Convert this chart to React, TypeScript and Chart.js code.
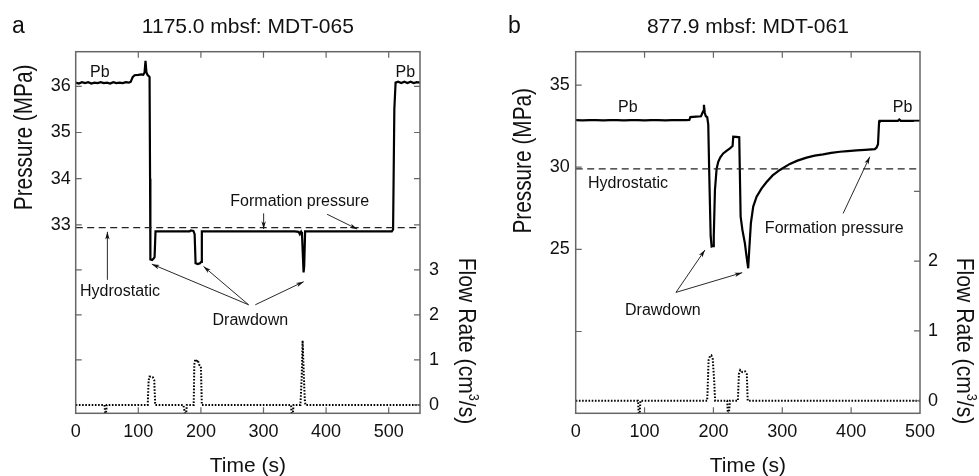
import React, { useEffect, useRef } from 'react';
import { Chart, registerables } from 'chart.js';

Chart.register(...registerables);

const FONT = '"Liberation Sans", Arial, Helvetica, sans-serif';
type Pt = [number, number];

// ---------- Panel a : 1175.0 mbsf, MDT-065 ----------
const A_PRESSURE: Pt[] = [
  [0, 36.08], [5, 36.06], [10, 36.09], [15, 36.07], [20, 36.09], [25, 36.06], [30, 36.08], [35, 36.07],
  [40, 36.09], [45, 36.07], [50, 36.08], [55, 36.06], [60, 36.09], [65, 36.07], [70, 36.08], [75, 36.07],
  [80, 36.09], [85, 36.08], [88, 36.1], [91, 36.2], [94, 36.24], [100, 36.25], [105, 36.26], [108, 36.25],
  [110, 36.3], [111.5, 36.55], [113, 36.3], [115, 36.24], [117, 36.22], [118, 36.2], [118.8, 34.0],
  [119.3, 32.25], [122, 32.24], [124.5, 32.27], [126, 32.3], [127.5, 32.86], [150, 32.86], [182, 32.86],
  [184, 32.88], [188, 32.87], [190, 32.8], [191.5, 32.17], [195, 32.15], [198.5, 32.17], [200.5, 32.2],
  [201.5, 32.86], [250, 32.86], [300, 32.86], [350, 32.86], [356, 32.85], [358, 32.8], [360, 32.85],
  [361.5, 32.8], [364, 31.97], [365, 32.1], [366.5, 32.86], [400, 32.86], [450, 32.86], [505, 32.86],
  [507, 32.9], [509, 35.5], [511, 36.08], [515, 36.1], [520, 36.07], [525, 36.1], [530, 36.07],
  [535, 36.1], [540, 36.07], [545, 36.09], [550, 36.08],
];
const A_FLOW: Pt[] = [
  [0, 0], [46, 0], [47, -0.18], [48.5, -0.18], [49.5, 0], [115, 0], [116.5, 0.55], [118, 0.63],
  [123, 0.62], [125.5, 0.55], [127, 0], [172, 0], [174.5, -0.18], [176.5, -0.18], [177.5, 0],
  [188.5, 0], [189.5, 0.9], [191, 1.02], [193, 0.95], [195, 1.0], [197, 0.9], [200, 0.85], [201.5, 0],
  [344, 0], [345, -0.18], [347, -0.18], [348, 0], [359, 0], [361, 0.6], [362.5, 1.43], [364, 0.8],
  [366, 0.1], [367, 0], [550, 0],
];
const A_HYDRO: Pt[] = [[0, 32.94], [550, 32.94]];
const A_X_TICKS = [0, 100, 200, 300, 400, 500];
const A_P_TICKS = [33, 34, 35, 36];
const A_Q_TICKS = [0, 1, 2, 3];
const A_LABELS = [
  { text: 'Pb', t: 22.9, p: 36.2 },
  { text: 'Pb', t: 510.9, p: 36.2 },
  { text: 'Formation pressure', t: 247, p: 33.4 },
  { text: 'Hydrostatic', t: 6.9, p: 31.45 },
  { text: 'Drawdown', t: 218.6, p: 30.84 },
];
const A_ARROWS: number[][] = [
  [300.2, 33.25, 300.2, 32.91],
  [401.6, 33.23, 449.6, 32.91],
  [50.6, 31.81, 50.6, 32.85],
  [276.2, 31.27, 121.6, 32.15],
  [276.2, 31.27, 204.2, 32.1],
  [286.9, 31.27, 364.2, 31.77],
];

// ---------- Panel b : 877.9 mbsf, MDT-061 ----------
const B_PRESSURE: Pt[] = [
  [0, 32.87], [10, 32.85], [20, 32.87], [30, 32.86], [40, 32.85], [50, 32.87], [60, 32.86], [70, 32.85],
  [80, 32.87], [90, 32.86], [100, 32.85], [110, 32.87], [120, 32.86], [130, 32.85], [140, 32.87],
  [150, 32.86], [160, 32.86], [165, 32.87], [166.5, 33.05], [175, 33.08], [182, 33.1], [185, 33.4],
  [186.2, 33.8], [187.5, 33.3], [189, 33.1], [191, 33.05], [192.5, 32.6], [194, 29.5], [196, 25.8],
  [197.4, 25.17], [199.5, 25.2], [200.5, 25.8], [202.2, 28.6], [204.6, 29.9], [207, 30.33], [210, 30.6],
  [214.2, 30.84], [219, 31.0], [224, 31.15], [227.8, 31.29], [228.8, 31.86], [233, 31.85], [237.5, 31.82],
  [239.5, 27.0], [242, 26.2], [245.7, 25.37], [248, 24.6], [250.5, 23.85], [252, 24.96], [254.4, 26.59],
  [257.8, 27.6], [262.7, 28.2], [270, 28.71], [277.2, 29.1], [286, 29.5], [296.5, 29.83], [311, 30.2],
  [322, 30.4], [335.3, 30.58], [347, 30.7], [359.4, 30.78], [371, 30.87], [383.6, 30.94], [395, 30.98],
  [407.8, 31.02], [420, 31.06], [434.4, 31.1], [437, 31.2], [439, 31.4], [440.6, 32.77], [441.5, 32.82],
  [455, 32.82], [468, 32.82], [470, 32.9], [472, 32.82], [485, 32.82], [500, 32.82],
];
const B_FLOW: Pt[] = [
  [0, 0], [90.5, 0], [91.5, -0.18], [93, -0.18], [94, 0], [191, 0], [193, 0.58], [195, 0.64],
  [197, 0.65], [199, 0.6], [201, 0.3], [202.5, 0], [220, 0], [221, -0.18], [222.5, -0.18], [224, 0],
  [235.5, 0], [237, 0.38], [239, 0.44], [242, 0.41], [246, 0.42], [248.5, 0.38], [249.8, 0], [500, 0],
];
const B_HYDRO: Pt[] = [[0, 29.9], [500, 29.9]];
const B_X_TICKS = [0, 100, 200, 300, 400, 500];
const B_P_TICKS = [25, 30, 35];
const B_Q_TICKS = [0, 1, 2];
const B_LABELS = [
  { text: 'Pb', t: 61.4, p: 33.36 },
  { text: 'Pb', t: 460.5, p: 33.36 },
  { text: 'Hydrostatic', t: 17.9, p: 28.73 },
  { text: 'Formation pressure', t: 274.7, p: 26.0 },
  { text: 'Drawdown', t: 71.6, p: 21.0 },
];
const B_ARROWS: number[][] = [
  [388.4, 27.19, 427.1, 30.64],
  [145.6, 22.38, 187.7, 24.96],
  [145.6, 22.38, 241.8, 23.58],
];

interface PanelSpec {
  letter: string;
  title: string;
  offset: number;
  width: number;
  xMax: number;
  pRange: [number, number];
  qRange: [number, number];
  pressure: Pt[];
  flow: Pt[];
  hydro: Pt[];
  xTicks: number[];
  pTicks: number[];
  qTicks: number[];
  marks: { leftP: number[]; leftQ: number[]; rightP: number[]; rightQ: number[]; x: number[] };
  labels: { text: string; t: number; p: number }[];
  arrows: number[][];
  box: { l: number; r: number; t: number; b: number };
  pTitle: { x: number; y: number };
  qTitle: { x: number; y: number };
  leftPad: number;
  rightPad: number;
}

const PANELS: PanelSpec[] = [
  {
    letter: 'a', title: '1175.0 mbsf: MDT-065', offset: 0, width: 489, xMax: 550,
    pRange: [28.92, 36.75], qRange: [-0.185, 7.85],
    pressure: A_PRESSURE, flow: A_FLOW, hydro: A_HYDRO,
    xTicks: A_X_TICKS, pTicks: A_P_TICKS, qTicks: A_Q_TICKS,
    marks: { leftP: [33, 34, 35, 36], leftQ: [1, 2, 3], rightP: [33, 34, 35, 36], rightQ: [0, 1, 2, 3], x: [100, 200, 300, 400, 500] },
    labels: A_LABELS, arrows: A_ARROWS,
    box: { l: 75.7, r: 420, t: 51.7, b: 413.3 },
    pTitle: { x: 32.3, y: 137.4 }, qTitle: { x: 459.3, y: 341 },
    leftPad: 5, rightPad: 9,
  },
  {
    letter: 'b', title: '877.9 mbsf: MDT-061', offset: 489, width: 490, xMax: 500,
    pRange: [15.02, 37.03], qRange: [-0.18, 5.0],
    pressure: B_PRESSURE, flow: B_FLOW, hydro: B_HYDRO,
    xTicks: B_X_TICKS, pTicks: B_P_TICKS, qTicks: B_Q_TICKS,
    marks: { leftP: [20, 25, 30, 35], leftQ: [], rightP: [], rightQ: [0, 1, 2, 3, 4], x: [100, 200, 300, 400] },
    labels: B_LABELS, arrows: B_ARROWS,
    box: { l: 575.7 - 489, r: 920 - 489, t: 51.7, b: 413.3 },
    pTitle: { x: 530.5 - 489, y: 160.8 }, qTitle: { x: 956.7 - 489, y: 341 },
    leftPad: 6, rightPad: 8,
  },
];

const FRAME = '#666';
const TEXT = '#111';

function arrow(ctx: CanvasRenderingContext2D, x1: number, y1: number, x2: number, y2: number) {
  ctx.beginPath();
  ctx.moveTo(x1, y1);
  ctx.lineTo(x2, y2);
  ctx.stroke();
  const a = Math.atan2(y2 - y1, x2 - x1);
  const L = 8, w = 0.28;
  ctx.beginPath();
  ctx.moveTo(x2, y2);
  ctx.lineTo(x2 - L * Math.cos(a - w), y2 - L * Math.sin(a - w));
  ctx.lineTo(x2 - L * 0.7 * Math.cos(a), y2 - L * 0.7 * Math.sin(a));
  ctx.lineTo(x2 - L * Math.cos(a + w), y2 - L * Math.sin(a + w));
  ctx.closePath();
  ctx.fill();
}

function makeDecor(spec: PanelSpec) {
  return {
    id: 'decor' + spec.letter,
    afterDraw(chart: any) {
      const ctx: CanvasRenderingContext2D = chart.ctx;
      const { left, right, top, bottom } = chart.chartArea;
      const xs = chart.scales.x, ys = chart.scales.y, qs = chart.scales.y1;
      ctx.save();
      ctx.setLineDash([]);
      // frame
      ctx.strokeStyle = FRAME;
      ctx.lineWidth = 1.5;
      ctx.strokeRect(left, top, right - left, bottom - top);
      // inward ticks
      const TL = 6;
      ctx.lineWidth = 1.2;
      ctx.beginPath();
      for (const v of spec.marks.x) {
        const px = xs.getPixelForValue(v);
        ctx.moveTo(px, bottom); ctx.lineTo(px, bottom - TL);
        ctx.moveTo(px, top); ctx.lineTo(px, top + TL);
      }
      for (const v of spec.marks.leftP) { const py = ys.getPixelForValue(v); ctx.moveTo(left, py); ctx.lineTo(left + TL, py); }
      for (const v of spec.marks.leftQ) { const py = qs.getPixelForValue(v); ctx.moveTo(left, py); ctx.lineTo(left + TL, py); }
      for (const v of spec.marks.rightP) { const py = ys.getPixelForValue(v); ctx.moveTo(right, py); ctx.lineTo(right - TL, py); }
      for (const v of spec.marks.rightQ) { const py = qs.getPixelForValue(v); ctx.moveTo(right, py); ctx.lineTo(right - TL, py); }
      ctx.stroke();

      // annotations
      ctx.fillStyle = TEXT;
      ctx.strokeStyle = TEXT;
      ctx.font = `16px ${FONT}`;
      ctx.textAlign = 'left';
      ctx.textBaseline = 'alphabetic';
      for (const l of spec.labels) {
        ctx.fillText(l.text, xs.getPixelForValue(l.t), ys.getPixelForValue(l.p));
      }
      ctx.lineWidth = 0.9;
      for (const a of spec.arrows) {
        arrow(ctx, xs.getPixelForValue(a[0]), ys.getPixelForValue(a[1]), xs.getPixelForValue(a[2]), ys.getPixelForValue(a[3]));
      }

      // panel letter + title
      ctx.font = `23px ${FONT}`;
      ctx.fillText(spec.letter, spec.letter === 'a' ? 12 : 19, 33.3);
      ctx.font = `21px ${FONT}`;
      ctx.textAlign = 'center';
      ctx.fillText(spec.title, (left + right) / 2, 33.3);
      // x title
      ctx.fillText('Time (s)', (left + right) / 2, 471.5);

      // y title (left, condensed)
      ctx.save();
      ctx.translate(spec.pTitle.x, spec.pTitle.y);
      ctx.rotate(-Math.PI / 2);
      ctx.scale(0.8, 1);
      ctx.font = `26px ${FONT}`;
      ctx.textAlign = 'center';
      ctx.fillText('Pressure (MPa)', 0, 0);
      ctx.restore();

      // y1 title (right, with superscript)
      ctx.save();
      ctx.translate(spec.qTitle.x, spec.qTitle.y);
      ctx.rotate(Math.PI / 2);
      ctx.scale(0.88, 1);
      const S = 24;
      const p1 = 'Flow Rate (cm', sup = '3', p2 = '/s)';
      ctx.font = `${S}px ${FONT}`;
      const w1 = ctx.measureText(p1).width, w3 = ctx.measureText(p2).width;
      ctx.font = `${S * 0.6}px ${FONT}`;
      const w2 = ctx.measureText(sup).width;
      let x = -(w1 + w2 + w3) / 2;
      ctx.textAlign = 'left';
      ctx.font = `${S}px ${FONT}`;
      ctx.fillText(p1, x, 0);
      x += w1;
      ctx.font = `${S * 0.6}px ${FONT}`;
      ctx.fillText(sup, x, -S * 0.42);
      x += w2;
      ctx.font = `${S}px ${FONT}`;
      ctx.fillText(p2, x, 0);
      ctx.restore();

      ctx.restore();
    },
  };
}

function toXY(arr: Pt[]) {
  return arr.map(([x, y]) => ({ x, y }));
}

function PanelChart({ spec }: { spec: PanelSpec }) {
  const ref = useRef<HTMLCanvasElement | null>(null);
  useEffect(() => {
    if (!ref.current) return;
    const tickFont = { family: FONT, size: 18 };
    const H = 476;
    const chart = new Chart(ref.current, {
      type: 'line',
      data: {
        datasets: [
          {
            data: toXY(spec.hydro), yAxisID: 'y', borderColor: '#222', borderWidth: 1.2,
            borderDash: [7, 4.5], pointRadius: 0, tension: 0, fill: false,
          },
          {
            data: toXY(spec.flow), yAxisID: 'y1', borderColor: '#000', borderWidth: 2,
            borderDash: [1.6, 1.6], pointRadius: 0, tension: 0, fill: false,
          },
          {
            data: toXY(spec.pressure), yAxisID: 'y', borderColor: '#000', borderWidth: 2.2,
            pointRadius: 0, tension: 0, fill: false,
          },
        ],
      } as any,
      options: {
        responsive: false,
        animation: false,
        devicePixelRatio: 1,
        layout: { padding: { top: spec.box.t, left: 0, right: 0, bottom: 0 } },
        plugins: { legend: { display: false }, tooltip: { enabled: false }, title: { display: false } },
        scales: {
          x: {
            type: 'linear', position: 'bottom', min: 0, max: spec.xMax,
            grid: { display: false, drawTicks: false }, border: { display: false },
            ticks: { font: tickFont, color: TEXT, padding: 8, maxRotation: 0 },
            afterBuildTicks: (s: any) => { s.ticks = spec.xTicks.map((v) => ({ value: v })); },
            afterFit: (s: any) => { s.height = H - spec.box.b; },
          },
          y: {
            type: 'linear', position: 'left', min: spec.pRange[0], max: spec.pRange[1],
            grid: { display: false, drawTicks: false }, border: { display: false },
            ticks: { font: tickFont, color: TEXT, padding: spec.leftPad },
            afterBuildTicks: (s: any) => { s.ticks = spec.pTicks.map((v) => ({ value: v })); },
            afterFit: (s: any) => { s.width = spec.box.l; },
          },
          y1: {
            type: 'linear', position: 'right', min: spec.qRange[0], max: spec.qRange[1],
            grid: { display: false, drawTicks: false }, border: { display: false },
            ticks: { font: tickFont, color: TEXT, padding: spec.rightPad },
            afterBuildTicks: (s: any) => { s.ticks = spec.qTicks.map((v) => ({ value: v })); },
            afterFit: (s: any) => { s.width = spec.width - spec.box.r; },
          },
        },
      } as any,
      plugins: [makeDecor(spec)],
    });
    return () => chart.destroy();
  }, [spec]);
  return (
    <canvas
      ref={ref}
      width={spec.width}
      height={476}
      style={{ position: 'absolute', left: spec.offset, top: 0, width: spec.width, height: 476 }}
    />
  );
}

export default function App() {
  return (
    <div style={{ position: 'absolute', left: 0, top: 0, width: 979, height: 476, background: '#fff', overflow: 'hidden' }}>
      {PANELS.map((p) => (
        <PanelChart key={p.letter} spec={p} />
      ))}
    </div>
  );
}
